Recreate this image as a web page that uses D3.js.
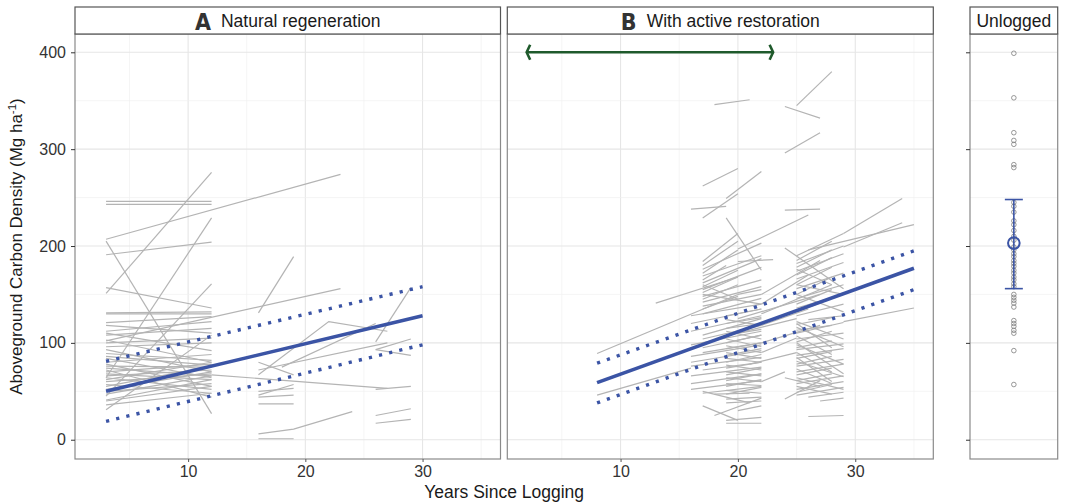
<!DOCTYPE html>
<html>
<head>
<meta charset="utf-8">
<script src="https://cdn.jsdelivr.net/npm/d3@7"></script>
<style>
  body { margin: 0; background: #fff; }
  svg { font-family: "Liberation Sans", Arial, sans-serif; }
</style>
</head>
<body>
<svg id="chart" width="1065" height="502"></svg>
<script>
// Plot trajectories: [year, carbon, year, carbon, ...] per plot (Mg/ha)
const naturalPlots = [
  [3,246,12,246], [3,243,12,243], [3,207,23,274], [3,151,12,276], [3,191,12,204],
  [3,64,12,229], [3,205,12,27], [3,157,12,136], [3,102,23,156],
  [3,131,12,132], [3,130,12,130], [3,121,12,127], [3,118,12,110], [3,112,12,122],
  [3,110,12,92], [3,108,12,115], [3,103,12,80], [3,100,12,105], [3,96,12,100],
  [3,93,12,70], [3,89,12,82], [3,86,12,77], [3,84,12,64], [3,80,12,88],
  [3,78,12,55], [3,76,12,75], [3,74,12,66], [3,72,12,44], [3,70,12,78],
  [3,68,12,62], [3,66,12,72], [3,64,12,52], [3,62,12,80], [3,60,12,68],
  [3,57,12,48], [3,55,12,76], [3,52,12,70], [3,50,12,58], [3,47,12,66],
  [3,45,12,161], [3,41,12,62], [3,40,12,55], [3,36,12,48], [3,31,12,108],
  [16,131,19,189], [16,67,22,122,27,112], [26,101,29,157], [18,75,26,120],
  [16,72,27,100], [12,67,27,53], [26,52,29,55],
  [16,50,19,53], [16,46,19,57], [16,44,19,46], [16,37,19,37], [16,80,19,67],
  [16,6,19,11,24,29], [16,1,19,1], [26,93,29,104], [26,93,29,87],
  [26,25,29,32], [26,17,29,21]
];

const restoredPlots = [
  [25,345,28,380], [24,344,27,332], [18,346,21,351], [24,296,27,317], [17,262,20,280],
  [19,249,22,277], [16,238,19,241], [17,229,20,254], [24,237,27,238], [19,229,22,175],
  [20,184,23,186], [20,197,26,232], [24,198,29,156],
  [8,89,20,150], [13,141,20,168], [8,46,16,74], [29,213,34,249], [26,196,35,222],
  [29,199,34,224], [29,122,35,136],
  [17,184,20,213], [17,180,20,205], [17,176,22,203], [17,172,20,196], [17,169,22,190],
  [17,165,19,180], [17,162,22,187], [17,158,20,175], [17,155,22,178], [17,152,20,168],
  [17,148,22,165], [17,145,20,160], [17,142,22,158], [17,138,22,150], [17,135,20,148],
  [17,130,22,146], [17,150,22,140], [17,160,20,145],
  [16,128,22,140], [16,120,22,135], [16,112,22,128], [17,108,22,125], [17,104,22,118],
  [16,98,22,112], [17,95,22,108], [17,90,22,100], [16,86,22,98], [16,80,22,92],
  [16,76,22,85], [17,72,22,80], [16,66,22,75], [16,58,22,68], [16,52,22,61],
  [17,48,22,55], [18,47,21,48],
  [19,115,22,120], [19,112,22,104], [19,108,22,114], [19,104,22,96], [19,100,22,108],
  [19,97,22,90], [19,94,22,100], [19,90,22,84], [19,87,22,94], [19,84,22,80],
  [19,80,22,88], [19,77,22,72], [19,74,22,80], [19,70,22,66], [19,67,22,74],
  [19,64,22,60], [19,61,22,68], [19,58,22,56], [19,55,22,62], [19,51,22,48],
  [19,47,22,54], [19,42,22,44], [19,38,22,40], [18,25,22,43], [17,35,20,20],
  [19,17,22,17], [19,20,22,23], [20,30,22,35], [17,50,21,38],
  [20,150,22,155], [19,128,22,135], [19,124,22,118], [19,120,22,126],
  [25,190,29,213], [25,185,28,205], [25,182,29,200], [25,178,28,196], [25,174,29,192],
  [25,170,28,188], [25,166,29,183], [25,160,28,178], [25,156,29,172], [25,150,28,168],
  [25,146,29,160], [25,140,28,155], [25,136,29,150], [25,132,28,146], [25,128,29,140],
  [26,124,29,128], [25,160,29,150], [25,176,28,160], [25,150,29,132],
  [25,122,29,104], [25,119,28,126], [25,116,29,96], [25,113,28,118], [25,110,29,121],
  [25,107,28,88], [25,104,29,110], [25,101,28,112], [25,98,29,78], [25,95,28,102],
  [25,93,29,99], [25,90,28,70], [25,87,29,94], [25,84,28,91], [25,81,29,65],
  [25,78,28,86], [25,76,29,83], [25,73,28,58], [25,70,29,78], [25,67,28,74],
  [25,64,29,52], [25,61,28,68], [25,58,29,66], [25,55,28,47], [25,52,29,60],
  [25,49,28,57], [25,46,29,54], [26,44,29,49], [27,40,29,43], [26,24,29,25],
  [25,100,29,68], [25,85,28,60], [25,120,28,95],
  [24,42,27,61], [24,64,27,55],
  [22,150,27,185], [22,140,26,170], [20,125,27,150], [22,130,28,160], [22,118,26,135],
  [20,110,25,125], [22,100,27,118], [22,90,25,105], [21,78,25,90], [22,60,24,70]
];

// Fitted model: years, mean, lower and upper bounds
const naturalFitYears = [3, 30];
const naturalFitMean = [50, 128];
const naturalFitLower = [19, 98];
const naturalFitUpper = [81, 158];

const restoredFitYears = [8, 35];
const restoredFitMean = [59, 177];
const restoredFitLower = [38, 155];
const restoredFitUpper = [79, 195];

// Restoration period arrow (years) at carbon = 400
const arrowYears = [2, 23];
const arrowCarbon = 400;

// Unlogged forest plots
const unloggedValues = [
  399, 353, 317, 309, 305, 284, 281,
  245, 241, 235, 226, 222, 216, 210, 206, 199, 196, 192, 189, 185, 182, 179,
  175, 172, 168, 165, 161, 158,
  150, 147, 144, 141, 137, 123, 120, 117, 113, 110, 92, 57
];
const unloggedMean = 203;
const unloggedLow = 156;
const unloggedHigh = 248;

const yTicks = [0, 100, 200, 300, 400];
const yMinor = [50, 150, 250, 350];
const xTicks = [10, 20, 30];
const xMinor = [5, 15, 25, 35];

const BLUE = "#3b54a5";
const GREEN = "#1f5a2c";
const LINE_GREY = "#b4b4b4";

const svg = d3.select("#chart");

// Layout (pixels)
const panelTop = 34, panelBottom = 459;
const stripTop = 7;

const y = d3.scaleLinear().domain([-19.9, 418.9]).range([panelBottom, panelTop]);

const panels = [
  {letter: "A", title: "Natural regeneration", left: 75, right: 500.5,
   plots: naturalPlots, fit: [naturalFitYears, naturalFitMean, naturalFitLower, naturalFitUpper]},
  {letter: "B", title: "With active restoration", left: 507.3, right: 933.3,
   plots: restoredPlots, fit: [restoredFitYears, restoredFitMean, restoredFitLower, restoredFitUpper]}
];

const toPoints = (flat) => d3.range(0, flat.length, 2).map((i) => [flat[i], flat[i + 1]]);

function drawStrip(left, right, drawLabel) {
  svg.append("rect")
    .attr("x", left).attr("y", stripTop)
    .attr("width", right - left).attr("height", panelTop - stripTop)
    .attr("fill", "#fff").attr("stroke", "#555").attr("stroke-width", 1.2);
  drawLabel(svg.append("text")
    .attr("x", (left + right) / 2).attr("y", 27.3)
    .attr("text-anchor", "middle").attr("font-size", 17.5).attr("fill", "#1a1a1a"));
}

function drawHGrid(g, left, right) {
  g.selectAll(null).data(yMinor).join("line")
    .attr("x1", left).attr("x2", right)
    .attr("y1", (d) => y(d)).attr("y2", (d) => y(d))
    .attr("stroke", "#f1f1f1").attr("stroke-width", 0.7);
  g.selectAll(null).data(yTicks).join("line")
    .attr("x1", left).attr("x2", right)
    .attr("y1", (d) => y(d)).attr("y2", (d) => y(d))
    .attr("stroke", "#e6e6e6").attr("stroke-width", 1.1);
}

panels.forEach((p, idx) => {
  const x = d3.scaleLinear().domain([0.35, 36.65]).range([p.left, p.right]);
  const g = svg.append("g");

  // gridlines
  g.selectAll(null).data(xMinor).join("line")
    .attr("x1", (d) => x(d)).attr("x2", (d) => x(d))
    .attr("y1", panelTop).attr("y2", panelBottom)
    .attr("stroke", "#f1f1f1").attr("stroke-width", 0.7);
  g.selectAll(null).data(xTicks).join("line")
    .attr("x1", (d) => x(d)).attr("x2", (d) => x(d))
    .attr("y1", panelTop).attr("y2", panelBottom)
    .attr("stroke", "#e6e6e6").attr("stroke-width", 1.1);
  drawHGrid(g, p.left, p.right);

  // plot trajectories
  const line = d3.line().x((d) => x(d[0])).y((d) => y(d[1]));
  g.selectAll(null).data(p.plots.map(toPoints)).join("path")
    .attr("d", line)
    .attr("fill", "none").attr("stroke", LINE_GREY).attr("stroke-width", 1.2);

  // fitted line with bounds
  const [years, mean, lower, upper] = p.fit;
  [lower, upper].forEach((vals) => {
    g.append("path")
      .attr("d", line(years.map((yr, i) => [yr, vals[i]])))
      .attr("fill", "none").attr("stroke", BLUE).attr("stroke-width", 3.4)
      .attr("stroke-dasharray", "3.2 7.2");
  });
  g.append("path")
    .attr("d", line(years.map((yr, i) => [yr, mean[i]])))
    .attr("fill", "none").attr("stroke", BLUE).attr("stroke-width", 3.6);

  // restoration period arrow
  if (p.letter === "B") {
    const ay = y(arrowCarbon), ax0 = x(arrowYears[0]), ax1 = x(arrowYears[1]);
    g.append("line").attr("x1", ax0).attr("x2", ax1).attr("y1", ay).attr("y2", ay)
      .attr("stroke", GREEN).attr("stroke-width", 2.6);
    g.append("path")
      .attr("d", `M${ax0 + 3.5},${ay - 7.5} L${ax0},${ay} L${ax0 + 3.5},${ay + 7.5}`)
      .attr("fill", "none").attr("stroke", GREEN).attr("stroke-width", 2.6);
    g.append("path")
      .attr("d", `M${ax1 - 3.5},${ay - 7.5} L${ax1},${ay} L${ax1 - 3.5},${ay + 7.5}`)
      .attr("fill", "none").attr("stroke", GREEN).attr("stroke-width", 2.6);
  }

  // panel border
  g.append("rect")
    .attr("x", p.left).attr("y", panelTop)
    .attr("width", p.right - p.left).attr("height", panelBottom - panelTop)
    .attr("fill", "none").attr("stroke", "#8a8a8a").attr("stroke-width", 1.2);

  // x axis
  const xAxis = d3.axisBottom(x).tickValues(xTicks).tickSize(3).tickPadding(4);
  const gx = svg.append("g").attr("transform", `translate(0,${panelBottom})`).call(xAxis);
  gx.select(".domain").remove();
  gx.selectAll(".tick line").attr("stroke", "#555");
  gx.selectAll(".tick text").attr("font-size", 16).attr("fill", "#333")
    .attr("font-family", "Liberation Sans, Arial, sans-serif");

  // y axis on first panel
  if (idx === 0) {
    const yAxis = d3.axisLeft(y).tickValues(yTicks).tickSize(4).tickPadding(5);
    const gy = svg.append("g").attr("transform", `translate(${p.left},0)`).call(yAxis);
    gy.select(".domain").remove();
    gy.selectAll(".tick line").attr("stroke", "#333");
    gy.selectAll(".tick text").attr("font-size", 16).attr("fill", "#333")
      .attr("font-family", "Liberation Sans, Arial, sans-serif");
  }

  drawStrip(p.left, p.right, (t) => {
    t.append("tspan").text(p.letter)
      .attr("font-family", "DejaVu Sans Condensed, DejaVu Sans, sans-serif")
      .attr("font-weight", "bold").attr("font-size", 23).attr("fill", "#333").attr("dy", 2.5);
    t.append("tspan").text(p.title).attr("dx", 10).attr("dy", -2.5);
  });
});

// Unlogged panel
const uLeft = 970, uRight = 1057.7;
const ux = (uLeft + uRight) / 2;
const gu = svg.append("g");
drawHGrid(gu, uLeft, uRight);
gu.selectAll(null).data(unloggedValues).join("circle")
  .attr("cx", ux).attr("cy", (d) => y(d)).attr("r", 2.3)
  .attr("fill", "none").attr("stroke", "#7d7d7d").attr("stroke-width", 0.8);
gu.append("line").attr("x1", ux).attr("x2", ux)
  .attr("y1", y(unloggedLow)).attr("y2", y(unloggedHigh))
  .attr("stroke", BLUE).attr("stroke-width", 1.6);
[unloggedLow, unloggedHigh].forEach((v) => {
  gu.append("line").attr("x1", ux - 9).attr("x2", ux + 9)
    .attr("y1", y(v)).attr("y2", y(v))
    .attr("stroke", BLUE).attr("stroke-width", 1.6);
});
gu.append("circle").attr("cx", ux).attr("cy", y(unloggedMean)).attr("r", 5.8)
  .attr("fill", "none").attr("stroke", BLUE).attr("stroke-width", 2);
gu.append("rect")
  .attr("x", uLeft).attr("y", panelTop)
  .attr("width", uRight - uLeft).attr("height", panelBottom - panelTop)
  .attr("fill", "none").attr("stroke", "#8a8a8a").attr("stroke-width", 1.2);
const gyu = svg.append("g").attr("transform", `translate(${uLeft},0)`)
  .call(d3.axisLeft(y).tickValues(yTicks).tickSize(4).tickFormat(""));
gyu.select(".domain").remove();
gyu.selectAll(".tick line").attr("stroke", "#333");
drawStrip(uLeft, uRight, (t) => t.text("Unlogged"));

// axis titles
const yTitle = svg.append("text")
  .attr("transform", `translate(22,${(panelTop + panelBottom) / 2}) rotate(-90)`)
  .attr("text-anchor", "middle").attr("font-size", 17).attr("fill", "#1a1a1a");
yTitle.append("tspan").text("Aboveground Carbon Density (Mg ha");
yTitle.append("tspan").text("-1").attr("font-size", 11.5).attr("dy", -6.5);
yTitle.append("tspan").text(")").attr("dy", 6.5);

svg.append("text")
  .attr("x", (panels[0].left + panels[1].right) / 2).attr("y", 497.5)
  .attr("text-anchor", "middle").attr("font-size", 17.5).attr("fill", "#1a1a1a")
  .text("Years Since Logging");
</script>
</body>
</html>
